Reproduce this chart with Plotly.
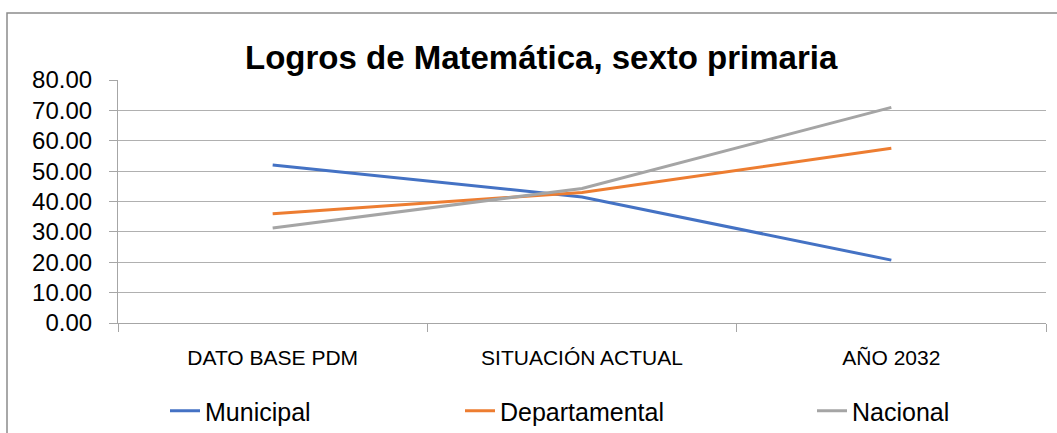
import plotly.graph_objects as go

categories = ["DATO BASE PDM", "SITUACIÓN ACTUAL", "AÑO 2032"]
municipal = [52.0, 41.5, 20.7]
departamental = [36.0, 43.0, 57.5]
nacional = [31.3, 44.3, 71.0]

series = [
    ("Municipal", municipal, "#4472C4", "legend", 165 / 1057),
    ("Departamental", departamental, "#ED7D31", "legend2", 460 / 1057),
    ("Nacional", nacional, "#A5A5A5", "legend3", 812 / 1057),
]

FONT = "Liberation Sans, Arial, sans-serif"
fig = go.Figure()
for name, vals, color, lg, _ in series:
    fig.add_trace(go.Scatter(x=categories, y=vals, name=name, mode="lines",
                             line=dict(color=color, width=3), legend=lg))

layout_legends = {}
for name, vals, color, lg, lx in series:
    layout_legends[lg] = dict(x=lx, y=1 - 411 / 433, xref="container", yref="container",
                              xanchor="left", yanchor="middle",
                              orientation="h", font=dict(family=FONT, size=25, color="#000"),
                              bgcolor="rgba(0,0,0,0)")

fig.update_layout(
    width=1057, height=433,
    margin=dict(l=118, r=11, t=80, b=110, autoexpand=False),
    paper_bgcolor="white", plot_bgcolor="white",
    title=dict(text="<b>Logros de Matemática, sexto primaria</b>", x=0.456, xref="paper",
               xanchor="center", y=1 - 57 / 433, yanchor="middle",
               font=dict(family=FONT, size=33, color="#000")),
    showlegend=True,
    **layout_legends,
)
fig.update_xaxes(type="category", range=[-0.5, 2.5], automargin=False,
                 showline=True, linecolor="#A6A6A6", linewidth=1.2,
                 ticks="outside", tickson="boundaries", ticklen=8, tickcolor="#A6A6A6",
                 tickwidth=1.2, showgrid=False, ticklabelstandoff=16,
                 tickfont=dict(family=FONT, size=21, color="#000"))
fig.update_yaxes(range=[0, 80], dtick=10, tickformat=".2f", showline=True, automargin=False,
                 linecolor="#A6A6A6", linewidth=1.2, ticks="outside", ticklen=8,
                 tickcolor="#A6A6A6", tickwidth=1.2, gridcolor="#B0B0B0", gridwidth=1.2,
                 zeroline=False, ticklabelstandoff=12,
                 tickfont=dict(family=FONT, size=24, color="#000"))
fig.add_shape(type="rect", xref="paper", yref="paper",
              x0=(7 - 118) / 928, x1=1.05, y0=-0.6, y1=(323 - 13) / 243,
              line=dict(color="#8C8C8C", width=1.5), fillcolor="rgba(0,0,0,0)", layer="below")
fig.write_html("out.html", config={"displayModeBar": False},
               post_script="document.body.style.margin='0';document.body.style.overflow='hidden';")
